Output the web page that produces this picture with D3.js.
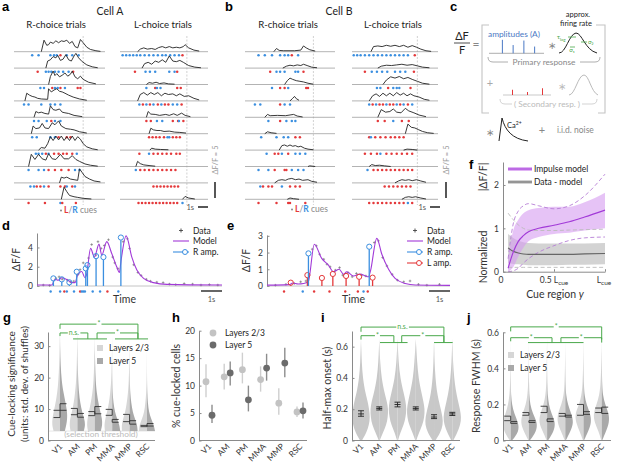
<!DOCTYPE html>
<html>
<head>
<meta charset="utf-8">
<script src="https://cdn.jsdelivr.net/npm/d3@7"></script>
<style>
  body { margin: 0; background: #fff; }
  svg { display: block; font-family: Lato, "Open Sans", sans-serif; }
</style>
</head>
<body>
<svg id="fig" width="617" height="469"></svg>
<script>
// ---------- DATA ----------
// single-trial traces: [% of trial, dF/F]; cues: % of trial, + = R cue, - = L cue
const cellA_R = [
  [[30,0],[33,3.6],[36,2],[38,2.2],[40,3],[43,2.6],[46,3.4],[49,2.8],[52,3.4],[55,3.2],[58,3.6],[61,2.6],[64,3.2],[67,1.6],[70,1.2],[73,3.8],[76,2.8],[80,1.4],[84,0.7],[90,0.3],[95,0.1]],
  [[35,0],[37,2.2],[40,2.6],[43,3.6],[46,3.2],[48,4],[51,2.4],[54,2.8],[57,4.2],[60,2.6],[63,2.2],[66,3.8],[68,4.6],[71,3.2],[75,2],[80,1],[86,0.4],[92,0.1]],
  [[38,0],[40,2.5],[43,4.2],[45,2.8],[47,3.4],[50,2.4],[53,2.9],[56,3.6],[59,2.6],[62,3.2],[64,4.2],[67,2.4],[70,1.8],[73,2.6],[76,1.6],[82,0.7],[90,0.2]],
  [[12,0],[14,2.4],[17,1.8],[20,1.4],[23,1.2],[26,0.8],[30,0.6],[37,0.5],[38,3.8],[41,2.8],[44,3.4],[47,3.8],[50,3],[53,2.8],[56,2.4],[60,1.8],[65,1.2],[72,0.6],[80,0.2]],
  [[22,0],[24,1.8],[27,1.4],[30,1.6],[34,1.2],[38,1.0],[40,3.6],[43,2.4],[46,2.2],[50,2.6],[53,1.6],[56,1.4],[60,1.2],[66,0.6],[75,0.2]],
  [[19,0],[21,2.4],[24,1.6],[28,1.8],[31,3.2],[34,1.8],[38,1.6],[42,3.4],[45,2.8],[49,4],[52,2.4],[57,1.6],[62,1.4],[66,1.2],[72,0.6],[80,0.2]],
  [[27,0],[30,0.8],[34,0.6],[37,2],[40,4.2],[43,3],[46,4.4],[49,3.2],[52,4.4],[55,3],[58,4.2],[61,3],[64,4.4],[67,3],[70,4.2],[73,3.4],[76,2],[80,1],[86,0.4],[92,0.1]],
  [[16,0],[19,3.8],[23,2.2],[27,3.8],[31,2.4],[35,2],[38,4],[42,2.4],[46,2.2],[51,3.8],[55,2.4],[60,2.4],[64,3.4],[68,2.2],[72,1.6],[78,0.8],[84,0.4],[92,0.1]],
  [[50,0],[52,1.8],[55,1.5],[58,1.8],[62,1.2],[66,1.0],[70,0.8],[72,4.4],[75,3.2],[78,2],[83,1.2],[88,0.6],[95,0.3]],
  [[52,0],[55,3.8],[58,2.4],[61,1.2],[66,0.8],[70,0.6],[76,0.3],[85,0.1]]
];
const cuesA_R = [
  [20,27,40,44,47,-51,58,64,71],
  [-26,35,38,41,45,49,54,60,-65],
  [29,33,-42,45,48,-51,56,-70,-73],
  [11,16,30,40,45,51],
  [22,27,36,-41,45,51],
  [20,25,40,45,-49,-58,-62],
  [24,27,31,-35,38,-44,-49,-54,-58,-64,69],
  [16,27,33,-38,-45,-52,-60,67,72],
  [18,22,-25,-29,33,-38,-51,-56,58,-64,67],
  [-16,-34,51,-53,-68]
];
const cellA_L = [
  [[20,0],[23,0.8],[27,1.2],[31,0.8],[36,1],[40,0.7],[44,1.3],[48,1.6],[52,1.2],[56,1.6],[60,1.2],[64,1.4],[68,1.2],[72,1.6],[74,2.2],[78,1.2],[84,0.5],[90,0.2]],
  [[25,0],[28,1.4],[32,1.8],[36,1.2],[40,2.2],[44,1.8],[48,2.6],[52,1.8],[56,3.8],[60,2.2],[64,2],[68,2.4],[72,1.8],[78,0.8],[85,0.3],[92,0.1]],
  [[30,0],[33,0.6],[37,0.4],[41,0.7],[45,0.3],[50,0.5],[55,0.2],[62,0.1]],
  [[20,0],[23,2],[27,2.6],[31,1.8],[35,2.6],[39,2],[43,2.6],[47,1.6],[51,2.4],[55,2],[60,2.2],[64,1.6],[68,2.2],[73,1.4],[78,1.6],[84,0.8],[90,0.3]],
  [[30,0],[32,1.8],[35,1],[40,0.9],[45,0.6],[52,0.9],[56,0.6],[61,1.1],[65,0.6],[70,1.3],[74,0.6],[80,0.2]],
  [[33,0],[35,1.7],[38,1.2],[42,1.0],[46,1.0],[50,0.7],[56,0.8],[62,0.5],[68,0.4],[75,0.2]],
  [[34,0],[36,0.6],[40,0.3],[46,0.2],[55,0.1]],
  [[18,0],[20,1.6],[23,0.9],[27,0.5],[33,0.3],[40,0.1]],
  [],
  [[71,0],[74,0.9],[78,0.4],[85,0.1]]
];
const cuesA_L = [
  [3,7,11,15,19,23,28,33,38,43,48,52,57,62,67,-71],
  [-17,29,34,40,56,62,-65],
  [30,-40,42,46,-65,-69],
  [22,-26,30,-34,38,-43,47,-51,-55,60,65,-70],
  [-30,-35,42,48,-60,-66,67,-72],
  [-33,-37,-41,-45,-50,54,56,-60,-64,-68],
  [-22,33,-38,-43,-48,-53,-58,-64,-68],
  [18,-23,-28,-33,-38,-43,-48,-53,-58,-63],
  [-38,-42,-46,-50,-54,-58,-62,-66],
  [-21,-25,-29,-33,-37,-41,-45,-49,-53,-57,-61,-65,71]
];
const cellB_R = [
  [[32,0],[35,1],[38,0.4],[43,0.3],[55,0.3],[62,0.5],[65,1.8],[68,1.2],[72,0.6],[78,0.2]],
  [[42,0],[46,0.6],[50,0.9],[54,0.7],[58,1],[62,0.8],[65,1.2],[69,0.8],[74,0.3],[80,0.1]],
  [[44,0],[47,1.2],[50,2],[53,1.6],[57,1.2],[61,1],[65,0.8],[70,0.4],[76,0.1]],
  [[50,0],[53,0.8],[55,1.4],[57,0.7],[60,0.2]],
  [[22,0],[25,0.9],[28,0.5],[36,0.6],[45,0.5],[54,0.9],[58,0.4],[64,0.1]],
  [[22,0],[25,0.6],[29,0.3],[35,0.1]],
  [[38,0],[41,1.4],[44,1.6],[47,1.2],[50,1.6],[53,1.2],[56,1.4],[59,1],[62,1.2],[66,0.6],[70,0.3],[76,0.1]],
  [[70,0],[72,0.2],[78,0]],
  [[33,0],[37,0.8],[41,1],[45,0.8],[48,1.2],[52,1.4],[56,1],[60,1.2],[64,0.8],[70,1],[74,0.5],[80,0.2]],
  [[47,0],[50,0.4],[54,0.2],[60,0]]
];
const cuesB_R = [
  [15,22,30,39,44,48,-52,59],
  [-28,35,39,44,56,59,-65],
  [30,-39,-44,48,-68,-70],
  [11,17,-39,44,50],
  [26,-39,46,52,56],
  [18,35,43,48,-56,-61],
  [24,-33,-37,41,-48,56,61,67],
  [15,26,-33,-44,-46,52,59,65],
  [17,-20,-26,-30,41,-50,-56,-61],
  [-15,-35,-48,-50,-67]
];
const cellB_L = [
  [[22,0],[25,1.6],[30,1.8],[35,1.6],[40,2],[45,1.7],[50,2],[55,1.6],[60,2],[65,1.4],[70,1.9],[75,1.4],[80,0.8],[86,0.3],[92,0.1]],
  [[30,0],[34,0.6],[40,0.9],[46,0.8],[52,1],[58,1.2],[64,0.9],[70,1.1],[76,0.7],[82,0.3],[90,0.1]],
  [[36,0],[40,1.4],[45,2.4],[50,2],[55,2.5],[60,1.8],[65,2.2],[70,1.6],[76,1],[82,0.4],[90,0.1]],
  [[20,0],[24,1.6],[28,2.2],[32,1.4],[36,2.4],[40,1.6],[44,2.4],[48,1.6],[52,2.6],[56,1.8],[60,2.4],[64,1.6],[68,2.2],[72,1.6],[78,1.2],[84,0.5],[90,0.2]],
  [[30,0],[34,2.4],[39,1.6],[44,1.8],[48,2.6],[52,1.6],[57,1.4],[62,2.8],[66,2],[72,1.4],[78,0.7],[86,0.2]],
  [[62,0],[65,3],[69,2],[73,1.8],[77,1.3],[82,0.7],[88,0.3],[95,0.1]],
  [[60,0],[64,0.3],[70,0.2],[76,0]],
  [[20,0],[23,0.6],[27,0.3],[32,0.4],[38,0.2],[45,0]],
  [[50,0],[54,0.6],[58,1],[62,0.8],[66,1],[70,0.7],[75,1],[80,0.6],[86,0.2]],
  [[58,0],[62,0.6],[66,0.8],[70,0.6],[74,0.8],[80,0.4],[86,0.1]]
];
const cuesB_L = [
  [2,6,10,15,20,25,30,35,40,45,50,55,60,65,-73],
  [-15,23,29,35,41,50,56,62,-72],
  [29,33,-42,48,52,55,-68],
  [20,-24,28,-32,-36,40,-44,-48,52,-56,60,-65,70],
  [-30,-38,48,-58,-66],
  [-20,22,-27,-33,-39,-45,-50,-55,-60],
  [-15,-22,-29,33,-40,-46,-52,-58,-64,-70],
  [18,-25,-30,-35,-40,-45,-50,-55,-60,-65,-70],
  [-38,-43,-48,-53,-58,-63,-68],
  [-20,-25,-30,-35,-40,-45,-50,-55,-60,65,-70]
];
const cueRegionEnd = 76;   // % of trial

// panel c schematic amplitudes
const primaryAmps = [0.9, 0.55, 0.85, 0.45];
const secondaryAmps = [0.35, 0.2, 0.45];

// panel d (cell A, one trial): time in s, dF/F
const dModel = [[0,0.1],[0.70,0.1],[0.86,0.7],[1.01,0.6],[1.17,0.85],[1.34,0.75],[1.54,0.5],[1.70,0.35],[1.81,0.35],[1.91,1.0],[2.13,1.5],[2.28,0.85],[2.36,1.2],[2.55,3.9],[2.73,3.0],[2.95,4.35],[3.08,3.2],[3.32,4.6],[3.55,3.4],[3.79,2.0],[3.92,1.4],[3.99,2.5],[4.24,5.2],[4.51,3.0],[4.75,1.65],[5.07,0.8],[5.54,0.35],[6.18,0.17],[8.8,0.1]];
const dData = [[0.3,0.1],[0.6,0.05],[0.9,0.8],[1.05,0.95],[1.2,0.7],[1.45,0.6],[1.6,0.4],[1.75,0.5],[1.95,1.2],[2.05,1.7],[2.2,2.4],[2.45,2.9],[2.6,4.3],[2.8,3.2],[2.9,4.6],[3.05,3.9],[3.2,4.2],[3.4,4.8],[3.6,3.0],[3.7,2.4],[3.85,1.8],[4.1,4.6],[4.3,4.9],[4.4,3.9],[4.6,2.2],[4.8,1.4],[4.95,1.1],[5.2,0.7],[5.4,0.5],[5.7,0.4],[6.0,0.35],[6.3,0.2],[6.6,0.15],[7.0,0.25],[7.4,0.2],[7.8,0.1],[8.2,0.15],[8.6,0.1]];
const dRamp = [[0.78,0.79],[1.18,0.69],[1.54,0.38],[1.89,1.48],[2.32,1.83],[2.40,2.17],[2.81,3.1],[3.16,3.0],[3.99,5.03]];
const dLamp = [];
const dCues = [0.65,1.10,-1.30,1.42,1.76,-2.05,2.13,2.20,2.28,2.65,3.0,-3.35,3.87];

// panel e (cell B, one trial)
const eModel = [[0,0.05],[1.06,0.08],[1.22,0.18],[1.48,0.12],[1.74,0.15],[1.96,0.25],[2.25,2.5],[2.6,1.65],[2.92,1.25],[3.16,0.85],[3.43,1.0],[3.64,0.7],[3.79,0.85],[4.11,0.6],[4.43,0.72],[4.67,0.6],[4.83,0.55],[4.92,0.9],[5.22,2.85],[5.46,1.9],[5.78,1.0],[6.09,0.45],[6.57,0.15],[7.05,0.06],[8.7,0.04]];
const eData = [[0.4,0.05],[0.9,0.1],[1.3,0.15],[1.6,0.25],[1.85,0.3],[2.15,2.2],[2.35,2.4],[2.5,1.9],[2.7,1.6],[2.85,1.3],[3.0,1.15],[3.25,0.95],[3.45,1.1],[3.6,0.65],[3.85,0.8],[4.05,0.55],[4.25,0.75],[4.5,0.65],[4.7,0.6],[5.1,2.6],[5.3,2.7],[5.5,1.7],[5.7,1.2],[5.95,0.7],[6.2,0.35],[6.5,0.25],[6.8,0.3],[7.2,0.1],[7.6,0.05],[8.2,0.1]];
const eRamp = [[1.97,1.95],[4.86,2.35]];
const eLamp = [[1.13,0.2],[1.92,0.65],[2.61,0.48],[3.13,0.72],[3.76,0.6],[4.38,0.55],[5.02,0.5]];
const eCues = [-0.81,1.70,-2.24,-2.97,-3.72,-4.32,4.59,-4.79];

// panel f: normalized |dF/F| vs cue region
const fCue = [0.05, 0.1, 0.15, 0.2, 0.25, 0.35, 0.5, 0.65, 0.8, 1.0];
const impulseMean = [0.08, 0.45, 0.7, 0.83, 0.92, 1.0, 1.07, 1.15, 1.26, 1.42];
const impulseHi = [0.3, 0.95, 1.2, 1.35, 1.42, 1.47, 1.5, 1.5, 1.6, 1.82];
const impulseLo = [0, 0.1, 0.35, 0.55, 0.7, 0.8, 0.87, 0.9, 0.95, 1.0];
const impulseDashHi = [0.3, 1.1, 1.4, 1.52, 1.57, 1.52, 1.45, 1.52, 1.75, 2.25];
const impulseDashLo = [0, 0.02, 0.08, 0.2, 0.3, 0.45, 0.6, 0.72, 0.78, 0.8];
const residMean = [0.55, 0.47, 0.43, 0.41, 0.4, 0.4, 0.4, 0.4, 0.41, 0.42];
const residHi = [0.87, 0.78, 0.72, 0.68, 0.66, 0.65, 0.65, 0.65, 0.65, 0.66];
const residLo = [0.2, 0.18, 0.17, 0.16, 0.15, 0.15, 0.15, 0.16, 0.16, 0.17];
const residDashHi = [1.35, 1.2, 1.08, 1.0, 0.96, 0.95, 0.95, 0.96, 0.97, 0.98];
const residDashLo = [0.1, 0.1, 0.1, 0.1, 0.1, 0.1, 0.1, 0.1, 0.1, 0.1];

// panels g-j
const areas = ["V1", "AM", "PM", "MMA", "MMP", "RSC"];

// g: cue-locking significance (violin densities at levels)
const gLevels = [3, 5, 7, 9, 12, 15, 19, 24, 29, 34];
const gDensL23 = [
  [0.8, 1.0, 0.95, 0.8, 0.55, 0.35, 0.2, 0.1, 0.05, 0.02],
  [0.85, 1.0, 0.9, 0.7, 0.45, 0.3, 0.15, 0.08, 0.04, 0.01],
  [0.85, 1.0, 0.9, 0.75, 0.5, 0.3, 0.15, 0.08, 0.04, 0],
  [0.9, 1.0, 0.85, 0.65, 0.4, 0.25, 0.12, 0.06, 0.02, 0],
  [0.95, 1.0, 0.8, 0.55, 0.35, 0.2, 0.1, 0.05, 0.01, 0],
  [1.0, 0.95, 0.6, 0.35, 0.2, 0.1, 0.05, 0.02, 0, 0]
];
const gDensL5 = [
  [0.6, 0.8, 0.9, 0.9, 0.7, 0.45, 0.2, 0.08, 0.02, 0],
  [0.8, 1.0, 0.85, 0.6, 0.35, 0.2, 0.1, 0.04, 0.01, 0],
  [0.75, 0.95, 0.9, 0.7, 0.45, 0.25, 0.1, 0.05, 0, 0],
  [1.0, 0.9, 0.6, 0.35, 0.15, 0.06, 0.02, 0, 0, 0],
  [1.0, 0.95, 0.65, 0.4, 0.2, 0.08, 0.03, 0, 0, 0],
  [1.0, 0.85, 0.5, 0.25, 0.1, 0.04, 0, 0, 0, 0]
];
const gCiL23 = [[7.3, 9.6], [8.2, 10.2], [7.9, 9.2], [8.0, 9.9], [6.0, 8.3], [4.4, 4.8]];
const gCiL5 = [[9.6, 11.7], [7.4, 8.6], [8.5, 10.8], [5.8, 6.7], [5.2, 6.3], [4.6, 5.4]];
const gBrackets = [[0, 4.48, 37, 35.5, 32.3, "*"], [0, 1.6, 34.2, 33.2, 32.3, "n.s."], [2.13, 4.48, 34.2, 32.3, 32.3, "*"]];
const gGroups = [[0.75, 2.7, 32.3], [3.16, 5.06, 32.3]];

// h: % cue-locked cells [mean, lo, hi]
const hL23 = [[10.7, 7.9, 13.9], [11.6, 9.3, 14], [12.9, 10.4, 16], [11.1, 8.9, 13.5], [6.8, 4.7, 9.5], [5.2, 4.3, 6.2]];
const hL5 = [[4.6, 3.2, 6.5], [12.3, 10, 14.4], [7.4, 5.3, 10], [13.2, 10.9, 15.8], [14.1, 11.5, 16.9], [5.4, 4, 6.9]];

// i: half-max onset (s)
const iLevels = [0, 0.05, 0.1, 0.15, 0.2, 0.25, 0.3, 0.4, 0.5, 0.6, 0.65];
const iDens = [
  [0.1, 0.6, 0.9, 1.0, 0.9, 0.75, 0.5, 0.2, 0.08, 0.03, 0],
  [0.05, 0.4, 0.8, 0.95, 1.0, 0.85, 0.6, 0.25, 0.1, 0.03, 0],
  [0.05, 0.3, 0.7, 0.9, 1.0, 0.9, 0.7, 0.3, 0.12, 0.04, 0],
  [0.05, 0.35, 0.75, 0.95, 1.0, 0.85, 0.65, 0.3, 0.15, 0.05, 0],
  [0.15, 0.7, 1.0, 0.95, 0.75, 0.55, 0.35, 0.15, 0.06, 0.02, 0],
  [0.1, 0.55, 0.9, 1.0, 0.85, 0.65, 0.45, 0.2, 0.08, 0.03, 0]
];
const iStats = [[0.17, 0.155, 0.19], [0.205, 0.195, 0.215], [0.23, 0.215, 0.245], [0.205, 0.195, 0.215], [0.15, 0.14, 0.165], [0.17, 0.16, 0.18]];
const iBrackets = [[0, 4.54, 0.725, 0.695, 0.626, "n.s."], [0, 1.8, 0.67, 0.645, 0.626, "*"], [2.23, 4.54, 0.67, 0.626, 0.626, "*"]];
const iGroups = [[1.04, 2.55, 0.626], [4.0, 5.02, 0.626]];

// j: response FWHM (s)
const jLevels = [0, 0.05, 0.1, 0.15, 0.2, 0.25, 0.3, 0.4, 0.5, 0.58];
const jDensL23 = [
  [0.1, 0.8, 1.0, 0.6, 0.3, 0.15, 0.08, 0.03, 0.01, 0],
  [0.05, 0.6, 1.0, 0.75, 0.35, 0.18, 0.1, 0.04, 0.01, 0],
  [0.05, 0.5, 1.0, 0.8, 0.4, 0.2, 0.1, 0.05, 0.02, 0],
  [0.05, 0.5, 0.95, 0.9, 0.45, 0.2, 0.1, 0.04, 0.01, 0],
  [0.05, 0.45, 0.9, 1.0, 0.5, 0.25, 0.12, 0.05, 0.02, 0],
  [0.05, 0.35, 0.85, 1.0, 0.6, 0.3, 0.15, 0.06, 0.02, 0]
];
const jDensL5 = [
  [0.15, 1.0, 0.9, 0.4, 0.15, 0.05, 0.02, 0, 0, 0],
  [0.1, 0.9, 1.0, 0.45, 0.15, 0.05, 0.02, 0, 0, 0],
  [0.1, 0.8, 1.0, 0.5, 0.2, 0.08, 0.03, 0, 0, 0],
  [0.05, 0.6, 1.0, 0.7, 0.3, 0.1, 0.04, 0.01, 0, 0],
  [0.05, 0.55, 0.95, 0.8, 0.35, 0.12, 0.05, 0.01, 0, 0],
  [0.05, 0.5, 0.9, 0.85, 0.4, 0.15, 0.06, 0.02, 0, 0]
];
const jCiL23 = [[0.11, 0.135], [0.14, 0.155], [0.155, 0.19], [0.135, 0.15], [0.14, 0.2], [0.155, 0.18]];
const jCiL5 = [[0.095, 0.105], [0.1, 0.11], [0.105, 0.12], [0.13, 0.14], [0.145, 0.16], [0.15, 0.185]];
const jBrackets = [[0, 5.0, 0.63, 0.605, 0.56, "*"], [0, 2.27, 0.57, 0.55, 0.543, "*"], [2.76, 5.0, 0.57, 0.543, 0.543, "*"]];
const jGroups = [[0.95, 4.0, 0.543]];

// ---------- STYLE ----------
const RED = "#e4393b", BLUE = "#3b8fe0", PURPLE = "#a23ad8", GREEN = "#49a84a";
const AXIS = "#8a8a8a", TXT = "#333";
const L23 = "#d6d6d6", L5 = "#a9a9a9";

const svg = d3.select("#fig");
svg.append("rect").attr("width", 617).attr("height", 469).attr("fill", "#fff");

function txt(g, x, y, s, o = {}) {
  const t = g.append("text").attr("x", x).attr("y", y).text(s)
    .attr("font-size", o.size || 9)
    .attr("fill", o.fill || TXT)
    .attr("text-anchor", o.anchor || "start");
  if (o.weight) t.attr("font-weight", o.weight);
  if (o.family) t.attr("font-family", o.family);
  if (o.italic) t.attr("font-style", "italic");
  if (o.rotate) t.attr("transform", `rotate(${o.rotate},${x},${y})`);
  return t;
}
function panelLetter(x, y, s) {
  txt(svg, x, y, s, { size: 13, weight: "bold", fill: "#000", family: "'Liberation Sans', Arial, sans-serif" });
}
function yAxis(g, x, y, ticks, fmt) {
  const ax = g.append("g").attr("transform", `translate(${x},0)`)
    .call(d3.axisLeft(y).tickValues(ticks).tickSizeInner(-2.5).tickSizeOuter(0).tickPadding(4)
      .tickFormat(fmt || (d => d)));
  ax.select(".domain").attr("stroke", AXIS);
  ax.selectAll(".tick line").attr("stroke", AXIS);
  ax.selectAll(".tick text").attr("fill", TXT).attr("font-size", 8.5).attr("font-family", "Lato, sans-serif");
  return ax;
}

// ---------- a, b : single trials ----------
const rowTop = 51.7, rowStep = 16.4;
const traceY = d3.scaleLinear().domain([0, 5]).range([0, 16]);

function drawTrials(x0, x1, traces, cues) {
  const x = d3.scaleLinear().domain([0, 100]).range([x0, x1]);
  const g = svg.append("g");
  g.append("line").attr("x1", x(cueRegionEnd)).attr("x2", x(cueRegionEnd))
    .attr("y1", 36).attr("y2", 205)
    .attr("stroke", "#bdbdbd").attr("stroke-width", 0.7).attr("stroke-dasharray", "2,1.5");
  traces.forEach((tr, i) => {
    const yb = rowTop + i * rowStep;
    g.append("line").attr("x1", x0).attr("x2", x1).attr("y1", yb).attr("y2", yb)
      .attr("stroke", "#a0a0a0").attr("stroke-width", 0.8);
    if (tr.length) {
      g.append("path").datum(tr)
        .attr("d", d3.line().x(d => x(d[0])).y(d => yb - traceY(d[1])))
        .attr("fill", "none").attr("stroke", "#222").attr("stroke-width", 0.9);
    }
    g.selectAll(null).data(cues[i]).join("circle")
      .attr("cx", d => x(Math.abs(d))).attr("cy", yb + 3.6).attr("r", 1.25)
      .attr("fill", d => d > 0 ? BLUE : RED);
  });
}

panelLetter(2, 11, "a");
txt(svg, 110, 15, "Cell A", { size: 10.5, anchor: "middle", fill: "#222" });
txt(svg, 56, 28, "R-choice trials", { size: 9.6, anchor: "middle", fill: "#222" });
txt(svg, 163, 28, "L-choice trials", { size: 9.6, anchor: "middle", fill: "#222" });
drawTrials(14, 105, cellA_R, cuesA_R);
drawTrials(120, 208, cellA_L, cuesA_L);

panelLetter(225, 11, "b");
txt(svg, 339, 15, "Cell B", { size: 10.5, anchor: "middle", fill: "#222" });
txt(svg, 288, 28, "R-choice trials", { size: 9.6, anchor: "middle", fill: "#222" });
txt(svg, 393, 28, "L-choice trials", { size: 9.6, anchor: "middle", fill: "#222" });
drawTrials(245, 335, cellB_R, cuesB_R);
drawTrials(352, 438, cellB_L, cuesB_L);

// cue legends and scale bars
function cueLegend(x, y) {
  svg.append("circle").attr("cx", x).attr("cy", y - 2.5).attr("r", 1).attr("fill", "#888");
  const t = svg.append("text").attr("x", x + 3).attr("y", y).attr("font-size", 8.5).attr("fill", "#888");
  t.append("tspan").text("L").attr("fill", RED).attr("font-weight", "bold");
  t.append("tspan").text("/").attr("fill", "#888");
  t.append("tspan").text("R").attr("fill", BLUE).attr("font-weight", "bold");
  t.append("tspan").text(" cues").attr("fill", "#888");
}
cueLegend(61, 213);
cueLegend(292, 212);

function scaleBars(xh, xv) {
  svg.append("line").attr("x1", xh).attr("x2", xh + 10).attr("y1", 207).attr("y2", 207)
    .attr("stroke", "#444").attr("stroke-width", 1.8);
  txt(svg, xh - 4, 210, "1s", { size: 7.5, anchor: "end", fill: "#555" });
  svg.append("line").attr("x1", xv).attr("x2", xv).attr("y1", 182).attr("y2", 198)
    .attr("stroke", "#444").attr("stroke-width", 1.8);
  txt(svg, xv + 3, 160, "\u0394F/F = 5", { size: 7.5, anchor: "middle", fill: "#999", rotate: -90 });
}
scaleBars(198, 215);
scaleBars(430, 446);

// ---------- c : model schematic ----------
panelLetter(450, 11, "c");
const gc = svg.append("g");
txt(gc, 462, 40, "\u0394F", { size: 11, anchor: "middle", fill: "#222" });
gc.append("line").attr("x1", 454).attr("x2", 470).attr("y1", 43).attr("y2", 43).attr("stroke", "#222").attr("stroke-width", 0.8);
txt(gc, 462, 54, "F", { size: 11, anchor: "middle", fill: "#222" });
txt(gc, 476, 48, "=", { size: 12, anchor: "middle", fill: "#888" });
gc.append("path").attr("d", "M489,25H482V113H489M596,25H605V113H598")
  .attr("fill", "none").attr("stroke", "#c4c4c4").attr("stroke-width", 1.1);
txt(gc, 578, 17, "approx.", { size: 7.5, anchor: "middle", fill: "#222" });
txt(gc, 576, 26, "firing rate", { size: 7.5, anchor: "middle", fill: "#222" });
txt(gc, 514, 37, "amplitudes (A)", { size: 8.3, anchor: "middle", fill: "#4a78c4" });
const stemH = d3.scaleLinear().domain([0, 1]).range([0, 15]);
const primX = d3.scaleBand().domain(d3.range(primaryAmps.length)).range([497, 540]);
gc.append("line").attr("x1", 489).attr("x2", 544).attr("y1", 53.3).attr("y2", 53.3).attr("stroke", "#999").attr("stroke-width", 0.8);
gc.selectAll(null).data(primaryAmps).join("line")
  .attr("x1", (d, i) => primX(i) + primX.bandwidth() / 2).attr("x2", (d, i) => primX(i) + primX.bandwidth() / 2)
  .attr("y1", 53.3).attr("y2", d => 53.3 - stemH(d))
  .attr("stroke", "#4a78c4").attr("stroke-width", 1);
txt(gc, 552, 49, "\u2217", { size: 10, anchor: "middle", fill: "#888" });
gc.append("path").attr("d", "M559,53 C566,53 569,34 576,33 C582,33 585,50 597,53")
  .attr("fill", "none").attr("stroke", "#222").attr("stroke-width", 1);
gc.append("path").attr("d", "M568,37H576M570,47H575M581,42H587")
  .attr("stroke", GREEN).attr("stroke-width", 0.8);
const tau = gc.append("text").attr("x", 557).attr("y", 39).attr("font-size", 6.5).attr("fill", GREEN);
tau.append("tspan").text("\u03c4");
tau.append("tspan").text("lag").attr("font-size", 4.5).attr("dy", 1.5);
txt(gc, 572, 52, "\u03c3\u2081", { size: 6, anchor: "middle", fill: GREEN });
txt(gc, 588, 44, "\u03c3\u2082", { size: 6, fill: GREEN });
gc.append("path").attr("d", "M488,57Q488,62 493,62H508M580,62H595Q600,62 600,57")
  .attr("fill", "none").attr("stroke", "#999").attr("stroke-width", 0.8);
txt(gc, 544, 65, "Primary response", { size: 8.3, anchor: "middle", fill: "#888" });
txt(gc, 490, 87, "+", { size: 11, anchor: "middle", fill: "#aaa" });
const secX = d3.scaleBand().domain(d3.range(secondaryAmps.length)).range([505, 550]);
gc.append("line").attr("x1", 503).attr("x2", 551).attr("y1", 95).attr("y2", 95).attr("stroke", "#bbb").attr("stroke-width", 0.8);
gc.selectAll(null).data(secondaryAmps).join("line")
  .attr("x1", (d, i) => secX(i) + secX.bandwidth() / 2).attr("x2", (d, i) => secX(i) + secX.bandwidth() / 2)
  .attr("y1", 95).attr("y2", d => 95 - stemH(d))
  .attr("stroke", RED).attr("stroke-width", 1);
txt(gc, 562, 90, "\u2217", { size: 10, anchor: "middle", fill: "#bbb" });
gc.append("path").attr("d", "M569,95 C575,95 578,75 584,75 C589,75 591,92 598,95")
  .attr("fill", "none").attr("stroke", "#bbb").attr("stroke-width", 1);
gc.append("path").attr("d", "M500,99Q500,104 505,104H512M582,104H592Q597,104 597,99")
  .attr("fill", "none").attr("stroke", "#c8c8c8").attr("stroke-width", 0.8);
txt(gc, 547, 107, "( Secondary resp. )", { size: 8.3, anchor: "middle", fill: "#bbb" });
txt(gc, 490, 136, "\u2217", { size: 10, anchor: "middle", fill: "#888" });
gc.append("path").attr("d", "M499,141 L502,118 C505,130 512,139 528,141")
  .attr("fill", "none").attr("stroke", "#222").attr("stroke-width", 1);
const ca = gc.append("text").attr("x", 507).attr("y", 128).attr("font-size", 7.5).attr("fill", "#222");
ca.append("tspan").text("Ca");
ca.append("tspan").text("2+").attr("font-size", 5).attr("dy", -3);
txt(gc, 542, 134, "+", { size: 11, anchor: "middle", fill: "#888" });
txt(gc, 557, 133, "i.i.d. noise", { size: 8.5, fill: "#888" });

// ---------- d, e : model fits ----------
function drawFit(cfg) {
  const g = svg.append("g");
  const x = d3.scaleLinear().domain([0, cfg.tMax]).range([cfg.x0, cfg.x1]);
  const y = d3.scaleLinear().domain([0, cfg.vMax]).range([286, cfg.yTop]);
  yAxis(g, cfg.x0, y, cfg.ticks);
  g.append("line").attr("x1", cfg.x0).attr("x2", cfg.x1).attr("y1", 286).attr("y2", 286)
    .attr("stroke", "#b5b5b5").attr("stroke-width", 0.8);
  txt(g, cfg.x0 - 17, (286 + cfg.yTop) / 2, "\u0394F/F", { size: 10.5, anchor: "middle", rotate: -90 });
  // data crosses
  g.selectAll(null).data(cfg.data).join("path")
    .attr("d", d => `M${x(d[0]) - 1.3},${y(d[1])}h2.6M${x(d[0])},${y(d[1]) - 1.3}v2.6`)
    .attr("stroke", "#666").attr("stroke-width", 0.6);
  g.append("path").datum(cfg.model)
    .attr("d", d3.line().x(d => x(d[0])).y(d => y(d[1])).curve(d3.curveMonotoneX))
    .attr("fill", "none").attr("stroke", PURPLE).attr("stroke-width", 1.1);
  [[cfg.lamp, RED], [cfg.ramp, BLUE]].forEach(([arr, col]) => {
    const s = g.selectAll(null).data(arr).join("g");
    s.append("line").attr("x1", d => x(d[0])).attr("x2", d => x(d[0]))
      .attr("y1", y(0)).attr("y2", d => y(d[1]) + 2.6).attr("stroke", col).attr("stroke-width", 1.3);
    s.append("circle").attr("cx", d => x(d[0])).attr("cy", d => y(d[1])).attr("r", 2.6)
      .attr("fill", "none").attr("stroke", col).attr("stroke-width", 1);
  });
  g.selectAll(null).data(cfg.cues).join("circle")
    .attr("cx", d => x(Math.abs(d))).attr("cy", 291.5).attr("r", 1.2)
    .attr("fill", d => d > 0 ? BLUE : RED);
  txt(g, (cfg.x0 + cfg.x1) / 2 - 5, 303, "Time", { size: 10.5, anchor: "middle" });
  g.append("line").attr("x1", x(cfg.tMax - 1)).attr("x2", x(cfg.tMax)).attr("y1", 291).attr("y2", 291)
    .attr("stroke", "#555").attr("stroke-width", 1.8);
  txt(g, x(cfg.tMax - 0.5), 302, "1s", { size: 7.5, anchor: "middle", fill: "#555" });
  // legend
  const lx = cfg.legX;
  const items = [["Data", "data"], ["Model", "model"], ["R amp.", BLUE]];
  if (cfg.lamp.length) items.push(["L amp.", RED]);
  const ly = [230.5, 241, 252, 263];
  items.forEach(([lab, kind], k) => {
    const yy = ly[k];
    if (kind === "data") {
      g.append("path").attr("d", `M${lx + 6},${yy}h4M${lx + 8},${yy - 2}v4`).attr("stroke", "#444").attr("stroke-width", 0.9);
    } else {
      const col = kind === "model" ? PURPLE : kind;
      g.append("line").attr("x1", lx).attr("x2", lx + 16).attr("y1", yy).attr("y2", yy).attr("stroke", col).attr("stroke-width", 1.1);
      if (kind !== "model") g.append("circle").attr("cx", lx + 12).attr("cy", yy).attr("r", 2.5).attr("fill", "#fff").attr("stroke", col);
    }
    txt(g, lx + 20, yy + 3, lab, { size: 8.5, fill: "#222" });
  });
}
panelLetter(2, 230, "d");
drawFit({ x0: 37, x1: 222, tMax: 8.8, vMax: 5.5, yTop: 233, ticks: [0, 2, 4],
  model: dModel, data: dData, ramp: dRamp, lamp: dLamp, cues: dCues, legX: 173 });
panelLetter(227, 230, "e");
drawFit({ x0: 267, x1: 450, tMax: 8.7, vMax: 3.05, yTop: 235, ticks: [0, 1, 2, 3],
  model: eModel, data: eData, ramp: eRamp, lamp: eLamp, cues: eCues, legX: 407 });

// ---------- f ----------
panelLetter(469, 169, "f");
const gf = svg.append("g");
const fx = d3.scaleLinear().domain([0, 1]).range([503, 605]);
const fy = d3.scaleLinear().domain([0, 2.53]).range([271.7, 162]);
const band = (lo, hi) => d3.area().x((d, i) => fx(fCue[i])).y0((d, i) => fy(lo[i])).y1((d, i) => fy(hi[i])).curve(d3.curveMonotoneX)(fCue);
const fline = arr => d3.line().x((d, i) => fx(fCue[i])).y(d => fy(d)).curve(d3.curveMonotoneX)(arr);
gf.append("path").attr("d", band(residLo, residHi)).attr("fill", "#c4c4c4").attr("opacity", 0.75);
gf.append("path").attr("d", band(impulseLo, impulseHi)).attr("fill", "#d69bf0").attr("opacity", 0.6);
[[impulseDashHi, "#b77fd6"], [impulseDashLo, "#b77fd6"], [residDashHi, "#bbb"], [residDashLo, "#bbb"]].forEach(([arr, col]) => {
  gf.append("path").attr("d", fline(arr)).attr("fill", "none").attr("stroke", col)
    .attr("stroke-width", 0.9).attr("stroke-dasharray", "4,2.5");
});
gf.append("path").attr("d", fline(residMean)).attr("fill", "none").attr("stroke", "#666").attr("stroke-width", 1.1);
gf.append("path").attr("d", fline(impulseMean)).attr("fill", "none").attr("stroke", PURPLE).attr("stroke-width", 1.1);
yAxis(gf, 503, fy, [0, 1, 2]);
const fxa = gf.append("g").attr("transform", "translate(0,271.7)")
  .call(d3.axisBottom(fx).tickValues([0, 0.5, 1]).tickSizeInner(-2.5).tickSizeOuter(0).tickFormat(""));
fxa.select(".domain").attr("stroke", AXIS);
fxa.selectAll(".tick line").attr("stroke", AXIS);
txt(gf, fx(0) - 2, 283, "0", { size: 8.5, anchor: "middle" });
const half = gf.append("text").attr("x", fx(0.5)).attr("y", 283).attr("font-size", 8.5).attr("fill", TXT).attr("text-anchor", "middle");
half.append("tspan").text("0.5 L");
half.append("tspan").text("cue").attr("font-size", 6.5).attr("dy", 2);
const full = gf.append("text").attr("x", fx(1) - 1).attr("y", 283).attr("font-size", 8.5).attr("fill", TXT).attr("text-anchor", "middle");
full.append("tspan").text("L");
full.append("tspan").text("cue").attr("font-size", 6.5).attr("dy", 2);
const xl = gf.append("text").attr("x", 555).attr("y", 298).attr("font-size", 10.5).attr("fill", TXT).attr("text-anchor", "middle");
xl.append("tspan").text("Cue region ");
xl.append("tspan").text("y").attr("font-style", "italic");
txt(gf, 487, 257, "Normalized", { size: 10.5, anchor: "middle", rotate: -90 });
txt(gf, 487, 177, "|\u0394F/F|", { size: 10.5, anchor: "middle", rotate: -90 });
gf.append("line").attr("x1", 508).attr("x2", 532).attr("y1", 169).attr("y2", 169).attr("stroke", "#d69bf0").attr("stroke-width", 3.5);
gf.append("line").attr("x1", 508).attr("x2", 532).attr("y1", 169).attr("y2", 169).attr("stroke", PURPLE).attr("stroke-width", 1);
gf.append("line").attr("x1", 508).attr("x2", 532).attr("y1", 182).attr("y2", 182).attr("stroke", "#c4c4c4").attr("stroke-width", 3.5);
gf.append("line").attr("x1", 508).attr("x2", 532).attr("y1", 182).attr("y2", 182).attr("stroke", "#666").attr("stroke-width", 1);
txt(gf, 534, 172, "Impulse model", { size: 8.5, fill: "#222" });
txt(gf, 534, 185, "Data - model", { size: 8.5, fill: "#222" });

// ---------- shared helpers for g-j ----------
function catAxis(g, x, x0, x1) {
  g.append("line").attr("x1", x0).attr("x2", x1).attr("y1", 440.5).attr("y2", 440.5).attr("stroke", AXIS);
  areas.forEach((a, i) => {
    txt(g, x(i) + 3, 447, a, { size: 8.3, anchor: "end", rotate: -45 });
  });
}
function halfViolin(g, cx, levels, dens, side, w, y, fill) {
  const pts = levels.map((l, k) => [l, dens[k]]);
  g.append("path").datum(pts)
    .attr("d", d3.area().curve(d3.curveBasis).y(d => y(d[0])).x0(cx).x1(d => cx + side * d[1] * w))
    .attr("fill", fill);
}
function ciBracket(g, cx, ci, side, y) {
  const w = 6.5;
  g.append("path").attr("d", `M${cx + side * w},${y(ci[0])}H${cx}V${y(ci[1])}H${cx + side * w}`)
    .attr("fill", "none").attr("stroke", "#333").attr("stroke-width", 0.9);
}
function brackets(g, x, y, list, groups) {
  groups.forEach(([a, b, lv]) => {
    g.append("line").attr("x1", x(a)).attr("x2", x(b)).attr("y1", y(lv)).attr("y2", y(lv))
      .attr("stroke", GREEN).attr("stroke-width", 1);
  });
  list.forEach(([a, b, lv, dl, dr, lab]) => {
    g.append("path").attr("d", `M${x(a)},${y(dl)}V${y(lv)}H${x(b)}V${y(dr)}`)
      .attr("fill", "none").attr("stroke", GREEN).attr("stroke-width", 1);
    const t = txt(g, (x(a) + x(b)) / 2, y(lv) + 2.3, lab, { size: 7, anchor: "middle", fill: GREEN });
    const bb = t.node().getBBox();
    g.insert("rect", () => t.node()).attr("x", bb.x - 1).attr("y", y(lv) - 1.5).attr("width", bb.width + 2).attr("height", 3)
      .attr("fill", "#fff");
  });
}
function squareLegend(g, x, y, labels) {
  labels.forEach(([lab, col], k) => {
    g.append("rect").attr("x", x).attr("y", y + k * 13 - 6).attr("width", 6).attr("height", 6).attr("fill", col);
    txt(g, x + 12, y + k * 13, lab, { size: 8.5, fill: "#222" });
  });
}

// ---------- g ----------
panelLetter(3, 322, "g");
const gg = svg.append("g");
const gx = d3.scaleLinear().domain([0, 5]).range([60, 147]);
const gy = d3.scaleLinear().domain([0, 34.5]).range([440.5, 332]);
gg.append("line").attr("x1", 48).attr("x2", 155).attr("y1", gy(3)).attr("y2", gy(3)).attr("stroke", "#e2e2e2").attr("stroke-width", 0.8);
areas.forEach((a, i) => {
  halfViolin(gg, gx(i), gLevels, gDensL23[i], -1, 8, gy, L23);
  halfViolin(gg, gx(i), gLevels, gDensL5[i], 1, 8, gy, L5);
});
areas.forEach((a, i) => {
  ciBracket(gg, gx(i), gCiL23[i], -1, gy);
  ciBracket(gg, gx(i), gCiL5[i], 1, gy);
});
txt(gg, 101, 437, "(selection threshold)", { size: 8.3, anchor: "middle", fill: "#bbb" });
yAxis(gg, 48, gy, [0, 10, 20, 30]);
catAxis(gg, gx, 48, 155);
brackets(gg, gx, gy, gBrackets, gGroups);
squareLegend(gg, 97, 351, [["Layers 2/3", L23], ["Layer 5", L5]]);
txt(gg, 15, 384, "Cue-locking significance", { size: 10, anchor: "middle", rotate: -90 });
txt(gg, 28, 384, "(units: std. dev. of shuffles)", { size: 10, anchor: "middle", rotate: -90 });

// ---------- h ----------
panelLetter(172, 322, "h");
const gh = svg.append("g");
const hx = d3.scaleLinear().domain([0, 5]).range([209, 300]);
const hy = d3.scaleLinear().domain([0, 20]).range([440.5, 330.7]);
[[hL23, -3, "#c3c3c3", "#cfcfcf"], [hL5, 3, "#6b6b6b", "#8d8d8d"]].forEach(([arr, off, col, bar]) => {
  const s = gh.selectAll(null).data(arr).join("g");
  s.append("line").attr("x1", (d, i) => hx(i) + off).attr("x2", (d, i) => hx(i) + off)
    .attr("y1", d => hy(d[1])).attr("y2", d => hy(d[2])).attr("stroke", bar).attr("stroke-width", 1.4);
  s.append("circle").attr("cx", (d, i) => hx(i) + off).attr("cy", d => hy(d[0])).attr("r", 3.4).attr("fill", col);
});
yAxis(gh, 199, hy, [0, 5, 10, 15, 20]);
catAxis(gh, hx, 199, 307);
gh.append("circle").attr("cx", 213).attr("cy", 333).attr("r", 3.4).attr("fill", "#c3c3c3");
gh.append("circle").attr("cx", 213).attr("cy", 345).attr("r", 3.4).attr("fill", "#6b6b6b");
txt(gh, 225, 336, "Layers 2/3", { size: 8.5, fill: "#222" });
txt(gh, 225, 348, "Layer 5", { size: 8.5, fill: "#222" });
txt(gh, 180, 386, "% cue-locked cells", { size: 10.5, anchor: "middle", rotate: -90 });

// ---------- i ----------
panelLetter(321, 322, "i");
const gi = svg.append("g");
const ix = d3.scaleLinear().domain([0, 5]).range([361, 452.3]);
const iy = d3.scaleLinear().domain([0, 0.7]).range([440.5, 331]);
areas.forEach((a, i) => {
  halfViolin(gi, ix(i), iLevels, iDens[i], -1, 9, iy, "#c8c8c8");
  halfViolin(gi, ix(i), iLevels, iDens[i], 1, 9, iy, "#c8c8c8");
});
gi.selectAll(null).data(iStats).join("path")
  .attr("d", (d, i) => {
    const c = ix(i);
    return `M${c - 3},${iy(d[1])}H${c + 3}M${c - 3},${iy(d[2])}H${c + 3}M${c},${iy(d[1])}V${iy(d[2])}M${c - 3},${iy(d[0])}H${c + 3}`;
  })
  .attr("fill", "none").attr("stroke", "#222").attr("stroke-width", 0.9);
yAxis(gi, 352, iy, [0, 0.2, 0.4, 0.6]);
catAxis(gi, ix, 352, 460);
brackets(gi, ix, iy, iBrackets, iGroups);
txt(gi, 331, 388, "Half-max onset (s)", { size: 10.5, anchor: "middle", rotate: -90 });

// ---------- j ----------
panelLetter(467, 322, "j");
const gj = svg.append("g");
const jx = d3.scaleLinear().domain([0, 5]).range([510.7, 601.7]);
const jy = d3.scaleLinear().domain([0, 0.6]).range([440.5, 332.3]);
areas.forEach((a, i) => {
  halfViolin(gj, jx(i), jLevels, jDensL23[i], -1, 8.5, jy, L23);
  halfViolin(gj, jx(i), jLevels, jDensL5[i], 1, 8.5, jy, L5);
});
areas.forEach((a, i) => {
  ciBracket(gj, jx(i), jCiL23[i], -1, jy);
  ciBracket(gj, jx(i), jCiL5[i], 1, jy);
});
yAxis(gj, 503, jy, [0, 0.2, 0.4, 0.6]);
catAxis(gj, jx, 503, 611);
brackets(gj, jx, jy, jBrackets, jGroups);
squareLegend(gj, 508, 358, [["Layers 2/3", L23], ["Layer 5", L5]]);
txt(gj, 480, 386, "Response FWHM (s)", { size: 10.5, anchor: "middle", rotate: -90 });
</script>
</body>
</html>
